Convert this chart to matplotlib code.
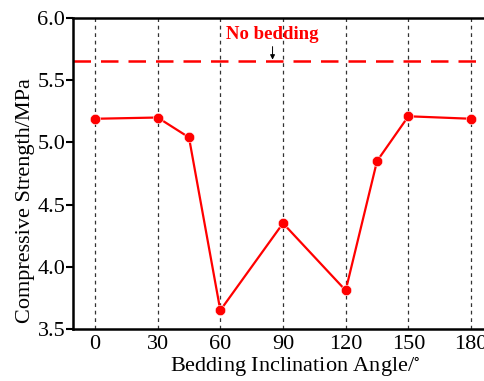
import matplotlib
matplotlib.use("Agg")
import matplotlib.pyplot as plt

angles = [0, 30, 45, 60, 90, 120, 135, 150, 180]
strength = [5.19, 5.20, 5.04, 3.65, 4.35, 3.81, 4.85, 5.21, 5.19]
no_bedding = 5.655
xticks = [0, 30, 60, 90, 120, 150, 180]
yticks = [3.5, 4.0, 4.5, 5.0, 5.5, 6.0]

plt.rcParams['font.family'] = ['Liberation Serif', 'DejaVu Serif']
plt.rcParams['mathtext.fontset'] = 'stix'
fig = plt.figure(figsize=(4.85, 3.81), dpi=100)
W, H = 485, 381
ax = fig.add_axes([73 / W, 1 - 329 / H, 420 / W, 311 / H])

for xv in xticks:
    ax.axvline(xv, color='#333333', linestyle=(0, (3, 3)), linewidth=0.9, zorder=1)

ax.axhline(no_bedding, color='red', linestyle=(0, (7, 4)), linewidth=1.8, zorder=2)
ax.plot(angles, strength, color='red', linewidth=1.6, marker='o', markersize=7.5,
        markeredgecolor='white', markeredgewidth=0.4, zorder=3)

ax.text(85, 5.87, 'No bedding', ha='center', va='center', color='red',
        fontsize=13.5, fontweight='bold', zorder=4)
ax.annotate('', xy=(85, no_bedding + 0.01), xytext=(85, 5.77),
            arrowprops=dict(arrowstyle='-|>', color='black', lw=0.7, mutation_scale=7,
                            shrinkA=0, shrinkB=0), zorder=4)

ax.set_xlim(-10.5, 190.5)
ax.set_ylim(3.5, 6.0)
ax.set_xticks(xticks)
ax.set_yticks(yticks)
ax.set_yticklabels([f'{v:.1f}' for v in yticks])
ax.tick_params(axis='x', length=0, labelsize=16, pad=4)
ax.tick_params(axis='y', length=5, width=1.5, direction='out', labelsize=16, pad=0.5)
for s in ax.spines.values():
    s.set_linewidth(1.8)
ax.set_xlabel('Bedding Inclination Angle/$^{\\circ}$', fontsize=16)
ax.set_ylabel('Compressive Strength/MPa', fontsize=16)
ax.xaxis.set_label_coords((295 - 73) / 420, -(356 - 329) / 311)
ax.yaxis.set_label_coords(-(73 - 35) / 420, (329 - 201) / 311)

fig.savefig('out.png', dpi=100)
